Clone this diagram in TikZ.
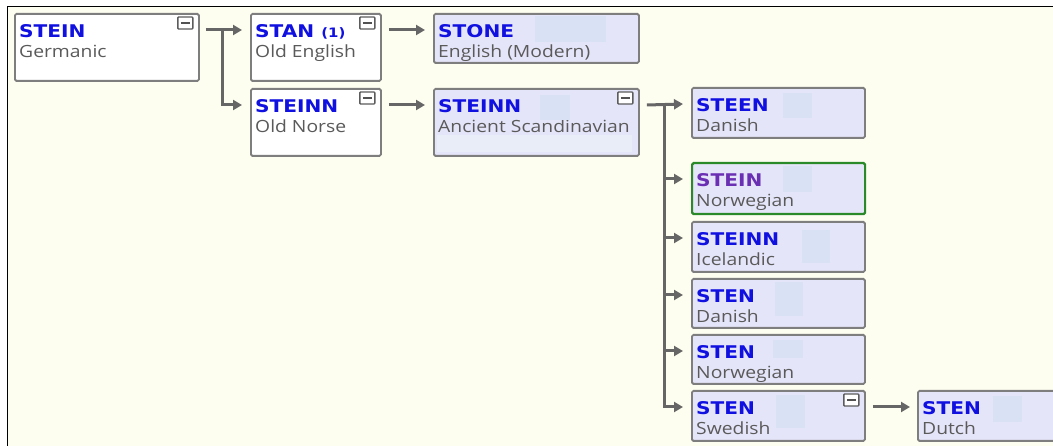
\documentclass[tikz,border=0pt]{standalone}
\usepackage{fontspec}
\setmainfont{Open Sans}
\newfontfamily\titlefont[FakeStretch=1.15]{DejaVu Sans}
\newfontfamily\subfont[FakeStretch=1.15]{Open Sans}
\usetikzlibrary{arrows.meta,calc}
\definecolor{cream}{HTML}{FDFDF0}
\definecolor{boxborder}{HTML}{7E7E7E}
\definecolor{lav}{HTML}{E5E5FA}
\definecolor{ph}{HTML}{D9E1F4}
\definecolor{titleblue}{HTML}{1010E0}
\definecolor{titlepurple}{HTML}{6A2FB3}
\definecolor{subgray}{HTML}{5A5A5A}
\definecolor{conncol}{HTML}{666666}
\definecolor{greenb}{HTML}{2A8A2A}
\tikzset{
  box/.style={draw=boxborder, line width=1.8pt, rounded corners=1.5pt, anchor=north west, inner sep=0pt, rectangle},
  whitebox/.style={box, fill=white},
  lavbox/.style={box, fill=lav},
  greenbox/.style={box, fill=lav, draw=greenb, line width=2.2pt},
  ttl/.style={anchor=base west, inner sep=0pt, text=titleblue, font=\titlefont\bfseries\fontsize{17.5}{18}\selectfont},
  sub/.style={anchor=base west, inner sep=0pt, text=subgray, font=\subfont\fontsize{16.8}{17}\selectfont},
  line/.style={draw=conncol, line width=3pt},
  conn/.style={line, -{Triangle[length=9pt,width=10pt]}},
  icon/.style={draw=conncol!90!black, fill=white, line width=1.4pt, rounded corners=0.8pt, rectangle, inner sep=0pt,
    minimum width=15pt, minimum height=12pt,
    path picture={\draw[line width=2.2pt, conncol!80!black] ([xshift=-4.5pt]path picture bounding box.center) -- ([xshift=4.5pt]path picture bounding box.center);}},
}
\newcommand\lexnode[8]{%
  \node[#6, minimum width=#4pt, minimum height=#5pt] (#1) at (#2,#3) {};
  \node[ttl] (#1-t) at ($(#1.north west)+(5,25)$) {#7};
  \node[sub] (#1-s) at ($(#1.north west)+(5,45)$) {#8};
  \coordinate (#1-in) at ($(#1.north west)+(0,17)$);
  \coordinate (#1-out) at ($(#1.north east)+(0,17)$);
}
\newcommand\iconon[1]{\node[icon] (#1-i) at ($(#1.north east)+(-14.5,10)$) {};}
\begin{document}
\begin{tikzpicture}[x=1pt,y=-1pt]
\useasboundingbox (0,0) rectangle (1053,446);
\fill[white] (0,0) rectangle (1053,446);
\fill[cream] (7,7) rectangle (1053,446);
\draw[black, line width=1pt] (7,446) -- (7,7) -- (1053,7);

% nodes
\lexnode{ger}{14}{13}{184}{67}{whitebox}{STEIN}{Germanic}
\lexnode{stan}{250}{13}{130}{67}{whitebox}{STAN {\fontsize{13}{13}\selectfont(1)}}{Old English}
\lexnode{norse}{250}{88}{130}{67}{whitebox}{STEINN}{Old Norse}
\lexnode{stone}{433}{13}{205}{49}{lavbox}{STONE}{English (Modern)}
\lexnode{anc}{433}{88}{205}{67}{lavbox}{STEINN}{Ancient Scandinavian}
\lexnode{steen}{691}{87}{173}{50}{lavbox}{STEEN}{Danish}
\lexnode{nor}{691}{162}{173}{51}{greenbox}{\textcolor{titlepurple}{STEIN}}{Norwegian}
\lexnode{ice}{691}{221}{173}{50}{lavbox}{STEINN}{Icelandic}
\lexnode{dan}{691}{278}{173}{49}{lavbox}{STEN}{Danish}
\lexnode{nor2}{691}{334}{173}{49}{lavbox}{STEN}{Norwegian}
\lexnode{swe}{691}{390}{173}{50}{lavbox}{STEN}{Swedish}
\lexnode{dut}{917}{390}{145}{50}{lavbox}{STEN}{Dutch}

% placeholder images
\fill[ph] (535,16) rectangle (606,42);
\fill[ph] (540,95) rectangle (570,120);
\fill[ph!60!white] (437,135) rectangle (632,152);
\fill[ph] (783,93) rectangle (812,118);
\fill[ph] (783,166) rectangle (812,192);
\fill[ph] (802,230) rectangle (830,263);
\fill[ph] (775,282) rectangle (803,316);
\fill[ph] (773,340) rectangle (803,358);
\fill[ph] (776,395) rectangle (805,428);
\fill[ph] (993,396) rectangle (1022,422);

% collapse icons
\iconon{ger}
\iconon{stan}
\iconon{norse}
\iconon{anc}
\iconon{swe}

% connectors
\draw[conn] ($(ger-out)+(6,0)$) -- ($(stan-in)+(-8,0)$);
\coordinate (t1) at ($(ger-out)+(23,0)$);
\draw[conn] (t1) |- ($(norse-in)+(-8,0)$);
\draw[conn] ($(stan-out)+(7,0)$) -- ($(stone-in)+(-8,0)$);
\draw[conn] ($(norse-out)+(7,0)$) -- ($(anc-in)+(-8,0)$);
\draw[conn] ($(anc-out)+(7,0)$) -- ($(steen-in)+(-8,0)$);
\coordinate (t2) at ($(anc-out)+(25,0)$);
\draw[conn] (t2) |- ($(swe-in)+(-8,0)$);
\draw[conn] (t2 |- nor-in) -- ($(nor-in)+(-8,0)$);
\draw[conn] (t2 |- ice-in) -- ($(ice-in)+(-8,0)$);
\draw[conn] (t2 |- dan-in) -- ($(dan-in)+(-8,0)$);
\draw[conn] (t2 |- nor2-in) -- ($(nor2-in)+(-8,0)$);
\draw[conn] ($(swe-out)+(7,0)$) -- ($(dut-in)+(-7,0)$);
\end{tikzpicture}
\end{document}
